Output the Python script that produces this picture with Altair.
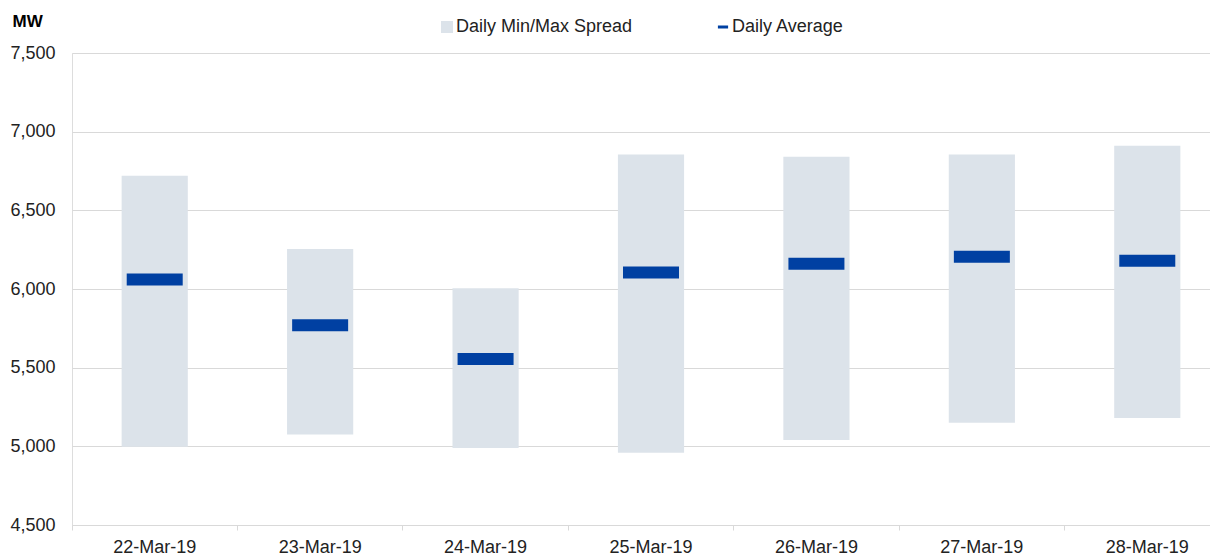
import altair as alt
import pandas as pd

dates = ["22-Mar-19", "23-Mar-19", "24-Mar-19", "25-Mar-19", "26-Mar-19", "27-Mar-19", "28-Mar-19"]
mins = [4998, 5075, 4990, 4960, 5040, 5150, 5180]
maxs = [6720, 6255, 6005, 6855, 6840, 6855, 6910]
avgs = [6060, 5770, 5555, 6105, 6160, 6205, 6180]

SPREAD = "Daily Min/Max Spread"
AVG = "Daily Average"

df = pd.DataFrame({"date": dates, "min": mins, "max": maxs, "avg": avgs})

FONT = "Liberation Sans, Arial, sans-serif"
GREY = "#dce3ea"
BLUE = "#0040a2"

x = alt.X(
    "date:N",
    sort=dates,
    title=None,
    scale=alt.Scale(paddingInner=0, paddingOuter=0),
    axis=alt.Axis(
        labelAngle=0, labelFontSize=18, labelColor="#222", labelFont=FONT,
        domainColor="#d9d9d9", tickColor="#d9d9d9", tickSize=5, bandPosition=0,
        labelPadding=8, grid=False,
    ),
)


def make_legend(lx, sym, fill):
    return alt.Legend(
        title=None, orient="none", direction="horizontal", legendX=lx, legendY=-35,
        labelFontSize=18, labelColor="#222", labelFont=FONT, labelOffset=0,
        labelLimit=400,
        symbolSize=144, padding=0, symbolStrokeWidth=0, symbolType=sym,
        symbolFillColor=fill, symbolOpacity=1,
    )


y = alt.Y(
    "min:Q",
    scale=alt.Scale(domain=[4500, 7500], nice=False, zero=False),
    title="MW",
    axis=alt.Axis(
        values=[4500, 5000, 5500, 6000, 6500, 7000, 7500], format=",.0f",
        domain=False, ticks=False, gridColor="#d9d9d9", gridWidth=1,
        labelFontSize=18, labelColor="#222", labelFont=FONT, labelPadding=17,
        titleAngle=0, titleAlign="left", titleBaseline="alphabetic",
        titleX=-60, titleY=-27, titleFontSize=17, titleFontWeight="bold",
        titleColor="#000", titleFont=FONT,
    ),
)

bars = alt.Chart(df).transform_calculate(series=f"'{SPREAD}'").mark_bar(
    width=alt.RelativeBandSize(0.4)
).encode(
    x=x,
    y=y,
    y2="max:Q",
    color=alt.Color(
        "series:N",
        scale=alt.Scale(domain=[SPREAD], range=[GREY]),
        legend=make_legend(366, "square", GREY),
    ),
)

ticks = alt.Chart(df).transform_calculate(series=f"'{AVG}'").mark_tick(
    thickness=12, size=56, opacity=1
).encode(
    x=x,
    y=alt.Y("avg:Q"),
    color=alt.Color(
        "series:N",
        scale=alt.Scale(domain=[AVG], range=[BLUE]),
        legend=make_legend(642, "M-0.85,-0.25H0.85V0.25H-0.85Z", BLUE),
    ),
)

chart = alt.layer(bars, ticks).resolve_scale(color="independent").properties(
    width=1158, height=472,
    autosize=alt.AutoSizeParams(type="none"),
    padding={"left": 64, "top": 45, "right": -20, "bottom": 35},
).configure_view(stroke=None).configure(background="white")

chart.save("out.html", embed_options={"renderer": "svg", "actions": False})
